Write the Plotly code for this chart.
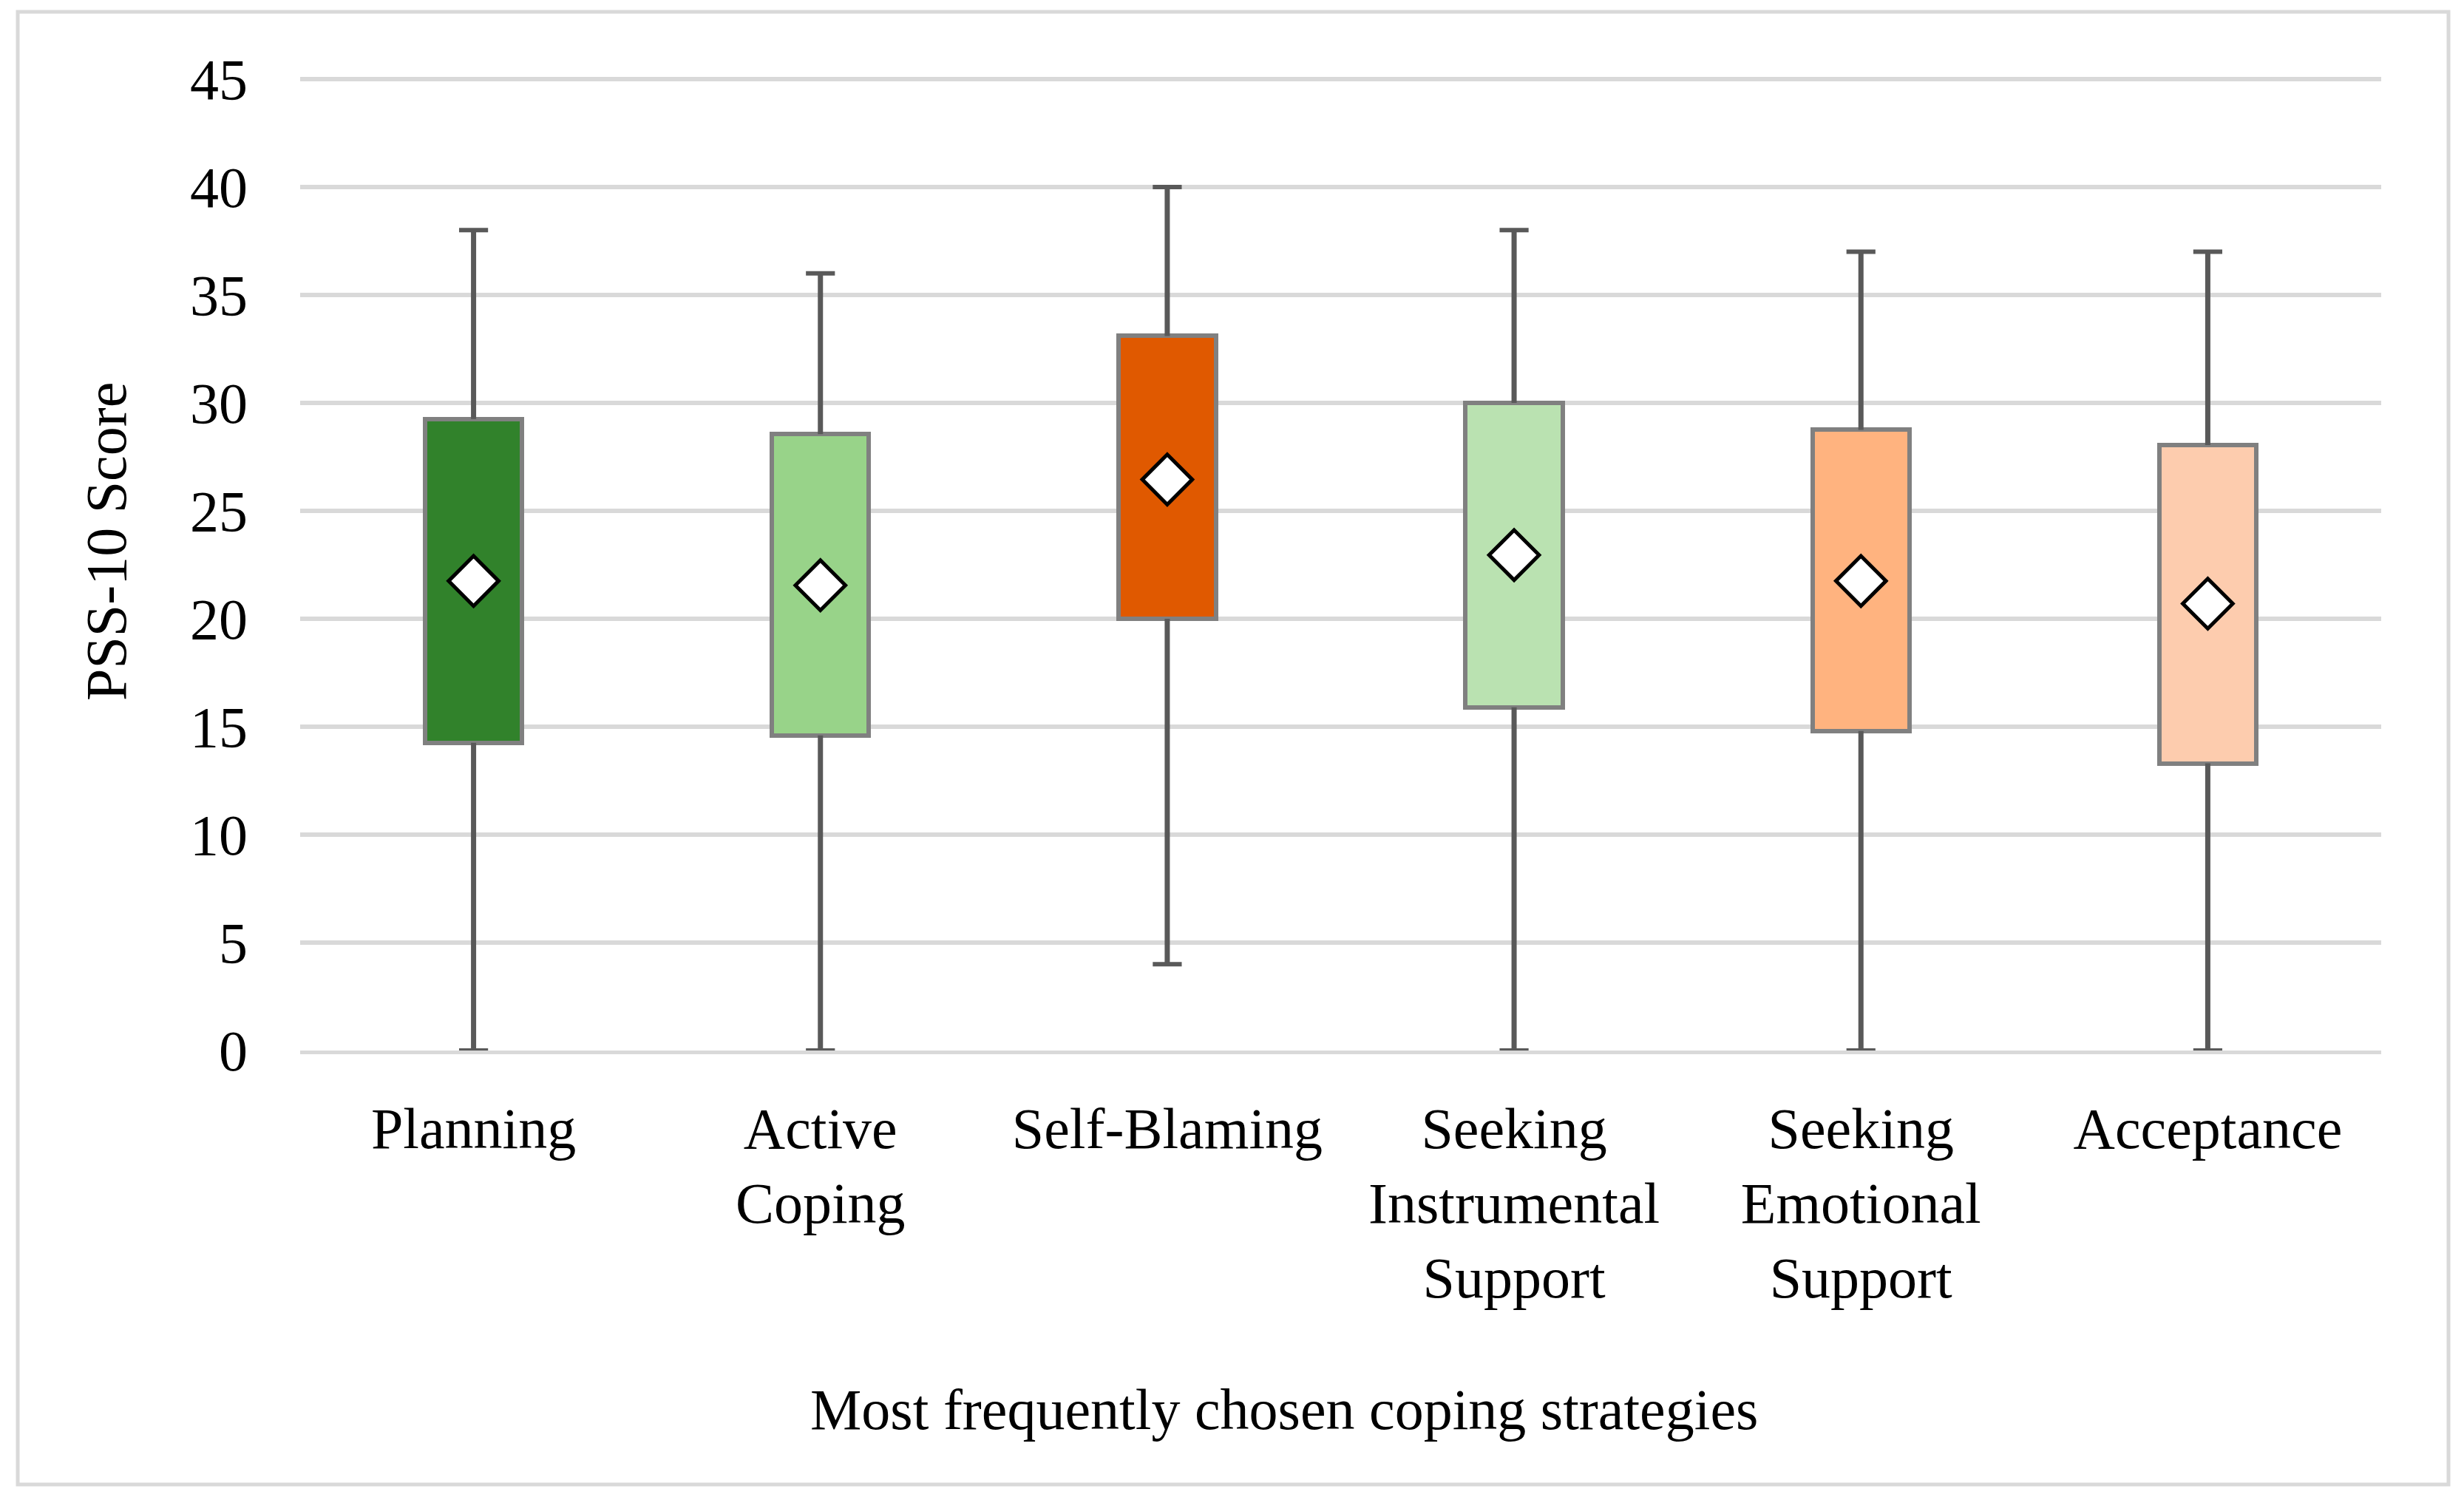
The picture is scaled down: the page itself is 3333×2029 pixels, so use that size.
import plotly.graph_objects as go

categories = ["Planning", "Active<br>Coping", "Self-Blaming", "Seeking<br>Instrumental<br>Support",
              "Seeking<br>Emotional<br>Support", "Acceptance"]
minimum = [0, 0, 4, 0, 0, 0]
q1 = [14.25, 14.6, 20.0, 15.9, 14.8, 13.3]
q3 = [29.25, 28.55, 33.1, 30.0, 28.75, 28.05]
maximum = [38, 36, 40, 38, 37, 37]
mean = [21.75, 21.55, 26.45, 22.95, 21.75, 20.7]
colors = ["#31822b", "#98d389", "#e05900", "#bae2b1", "#ffb37f", "#fdccae"]
ytick_vals = [0, 5, 10, 15, 20, 25, 30, 35, 40, 45]

FONT = "Liberation Serif"
FS = 78
OFF = 8  # page body margin offset

fig = go.Figure()

# box bodies (Q1..Q3)
fig.add_trace(go.Bar(
    x=categories, base=q1, y=[b - a for a, b in zip(q1, q3)],
    width=0.28, marker=dict(color=colors, line=dict(color="#808080", width=6)),
    hoverinfo="skip", showlegend=False,
))

# whiskers
wx, wy = [], []
for c, lo, a, b, hi in zip(categories, minimum, q1, q3, maximum):
    wx += [c, c, None, c, c, None]
    wy += [b, hi, None, lo, a, None]
fig.add_trace(go.Scatter(x=wx, y=wy, mode="lines", line=dict(color="#595959", width=7),
                         hoverinfo="skip", showlegend=False))

# whisker caps
fig.add_trace(go.Scatter(
    x=categories + categories, y=maximum + minimum, mode="markers",
    marker=dict(symbol="line-ew", size=28, line=dict(color="#595959", width=6)),
    hoverinfo="skip", showlegend=False,
))

# means
fig.add_trace(go.Scatter(
    x=categories, y=mean, mode="markers",
    marker=dict(symbol="diamond", size=52, color="white", line=dict(color="black", width=5)),
    showlegend=False,
))

PXU = 1314 / 45.0          # pixels per unit
YMAX = 45.1                # slight headroom so the 45 gridline is drawn
EXTRA = (YMAX - 45) * PXU
L, W = 406 - OFF, 2815
T, H = 107 - OFF - EXTRA, 1314 + EXTRA
BOTTOM_PX = 107 + 1314     # page pixel of y=0

def px2paper_x(px):
    return (px - OFF - L) / W

def px2paper_y(py):
    return (BOTTOM_PX - py) / H

fig.update_layout(
    width=3333, height=2029,
    margin=dict(l=L, r=3333 - L - W, t=T, b=2029 - T - H, pad=0),
    paper_bgcolor="white", plot_bgcolor="white",
    font=dict(family=FONT, size=FS, color="black"),
    bargap=0,
    xaxis=dict(showgrid=False, zeroline=False, showline=True, linecolor="#d9d9d9", linewidth=5,
               layer="above traces", ticks="", ticklabelstandoff=33,
               tickfont=dict(family=FONT, size=FS, color="black")),
    yaxis=dict(range=[0, YMAX], tickvals=ytick_vals,
               showgrid=True, gridcolor="#d9d9d9", gridwidth=5.5,
               zeroline=False, showline=False, ticks="", ticklabelstandoff=70,
               tickfont=dict(family=FONT, size=FS, color="black")),
    shapes=[dict(type="rect", xref="paper", yref="paper",
                 x0=px2paper_x(24), x1=px2paper_x(3312), y0=px2paper_y(2008), y1=px2paper_y(16),
                 line=dict(color="#d9d9d9", width=5), fillcolor="rgba(0,0,0,0)", layer="below")],
    annotations=[
        dict(text="PSS-10 Score", xref="paper", yref="paper", x=px2paper_x(144), y=px2paper_y(733),
             textangle=-90, showarrow=False, xanchor="center", yanchor="middle",
             font=dict(family=FONT, size=FS, color="black")),
        dict(text="Most frequently chosen coping strategies", xref="paper", yref="paper",
             x=px2paper_x(1737), y=px2paper_y(1906), showarrow=False, xanchor="center", yanchor="middle",
             font=dict(family=FONT, size=FS, color="black")),
    ],
)

fig.write_html("out.html")
